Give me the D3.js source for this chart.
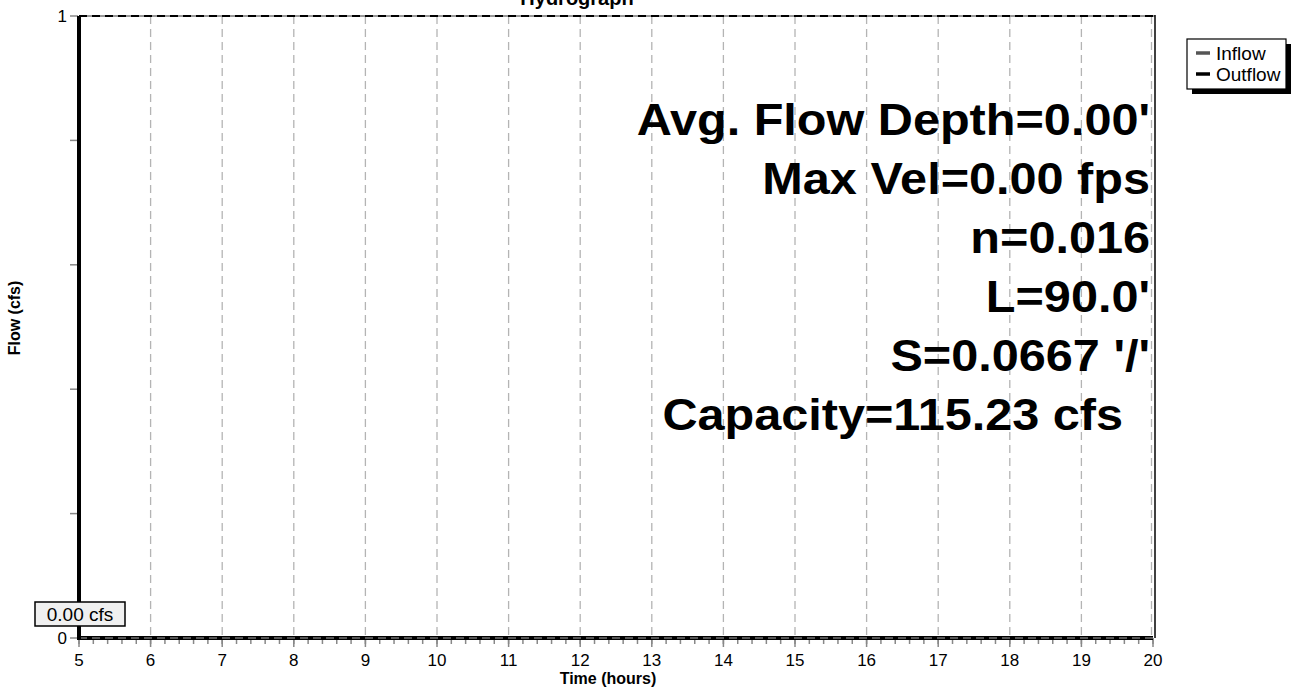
<!DOCTYPE html>
<html>
<head>
<meta charset="utf-8">
<script src="https://cdn.jsdelivr.net/npm/d3@7"></script>
<style>
    body { margin: 0; background: #fff; }
    svg text { font-family: "Liberation Sans", Arial, Helvetica, sans-serif; fill: #000; }
</style>
</head>
<body>
<svg id="chart" width="1294" height="692"></svg>
<script>
// hydrograph values (hours, cfs)
const timeHours = [5, 6, 7, 8, 9, 10, 11, 12, 13, 14, 15, 16, 17, 18, 19, 20];
const inflow    = [0, 0, 0, 0, 0, 0, 0, 0, 0, 0, 0, 0, 0, 0, 0, 0];
const outflow   = [0, 0, 0, 0, 0, 0, 0, 0, 0, 0, 0, 0, 0, 0, 0, 0];
const xTicks = [5, 6, 7, 8, 9, 10, 11, 12, 13, 14, 15, 16, 17, 18, 19, 20];
const yTicks = [0, 1];
const yMinorTicks = [0.2, 0.4, 0.6, 0.8];
const seriesNames = ["Inflow", "Outflow"];
const infoLines = ["Avg. Flow Depth=0.00'", "Max Vel=0.00 fps", "n=0.016", "L=90.0'", "S=0.0667 '/'", "Capacity=115.23 cfs"];
const peakLabel = "0.00 cfs";

const svg = d3.select("#chart");
const margin = { top: 16, right: 141, bottom: 54, left: 79 };
const width = 1294 - margin.left - margin.right;
const height = 692 - margin.top - margin.bottom;

const x = d3.scaleLinear().domain([5, 20]).range([0, width]);
const y = d3.scaleLinear().domain([0, 1]).range([height, 0]);

const g = svg.append("g").attr("transform", `translate(${margin.left},${margin.top})`);

// vertical dashed grid
g.append("g")
    .selectAll("line")
    .data(xTicks.slice(1))
    .enter().append("line")
    .attr("x1", d => x(d) - (d === 20 ? 1.5 : 0))
    .attr("x2", d => x(d) - (d === 20 ? 1.5 : 0))
    .attr("y1", 0)
    .attr("y2", height)
    .attr("stroke", "#b4b4b4")
    .attr("stroke-width", 1.3)
    .attr("stroke-dasharray", "8,5");

// frame: top edge gray with black dashes, right edge black
g.append("line").attr("x1", 0).attr("x2", width + 2).attr("y1", 0).attr("y2", 0)
    .attr("stroke", "#999").attr("stroke-width", 2);
g.append("line").attr("x1", 0).attr("x2", width + 2).attr("y1", 0).attr("y2", 0)
    .attr("stroke", "#000").attr("stroke-width", 2).attr("stroke-dasharray", "8,5");
g.append("line").attr("x1", width + 2).attr("x2", width + 2).attr("y1", -1).attr("y2", height)
    .attr("stroke", "#000").attr("stroke-width", 1.5);

// y axis ticks
g.append("g")
    .selectAll("line")
    .data(yTicks.concat(yMinorTicks))
    .enter().append("line")
    .attr("x1", -9).attr("x2", -1)
    .attr("y1", d => y(d)).attr("y2", d => y(d))
    .attr("stroke", "#888").attr("stroke-width", 1.5);

g.append("g")
    .selectAll("text")
    .data(yTicks)
    .enter().append("text")
    .attr("x", -12)
    .attr("y", d => y(d))
    .attr("dy", "0.36em")
    .attr("text-anchor", "end")
    .style("font-size", "17px")
    .text(d => d);

// x axis ticks (major + 0.2 h minor)
const minorX = d3.range(5, 20.001, 0.2);
g.append("g")
    .selectAll("line")
    .data(minorX)
    .enter().append("line")
    .attr("x1", d => x(d)).attr("x2", d => x(d))
    .attr("y1", height).attr("y2", height + 6)
    .attr("stroke", "#888").attr("stroke-width", 1.5);
g.append("g")
    .selectAll("line")
    .data(xTicks)
    .enter().append("line")
    .attr("x1", d => x(d)).attr("x2", d => x(d))
    .attr("y1", height).attr("y2", height + 9)
    .attr("stroke", "#888").attr("stroke-width", 1.5);

g.append("g")
    .selectAll("text")
    .data(xTicks)
    .enter().append("text")
    .attr("x", d => x(d))
    .attr("y", height + 28)
    .attr("text-anchor", "middle")
    .style("font-size", "17px")
    .text(d => d);

// series
const line = d3.line().x(d => x(d[0])).y(d => y(d[1]));
g.append("path")
    .datum(timeHours.map((t, i) => [t, inflow[i]]))
    .attr("d", line)
    .attr("fill", "none").attr("stroke", "#555").attr("stroke-width", 4);
g.append("path")
    .datum(timeHours.map((t, i) => [t, outflow[i]]))
    .attr("d", line)
    .attr("fill", "none").attr("stroke", "#000").attr("stroke-width", 4);

// horizontal dashed grid at 0 drawn over the series
g.append("line").attr("x1", 0).attr("x2", width).attr("y1", y(0)).attr("y2", y(0))
    .attr("stroke", "#aaa").attr("stroke-width", 1).attr("stroke-dasharray", "8,5");

// thick y axis line
g.append("line").attr("x1", 0).attr("x2", 0).attr("y1", 0).attr("y2", height + 2)
    .attr("stroke", "#000").attr("stroke-width", 4);

// peak label box
const peak = g.append("g").attr("transform", `translate(${-44},${height - 36})`);
peak.append("rect").attr("width", 90).attr("height", 24)
    .attr("fill", "#f0f0f0").attr("stroke", "#000").attr("stroke-width", 1.5);
peak.append("text").attr("x", 45).attr("y", 19).attr("text-anchor", "middle")
    .style("font-size", "19px").text(peakLabel);

// info text (slightly wide bold face, right aligned)
g.append("g")
    .selectAll("text")
    .data(infoLines)
    .enter().append("text")
    .attr("transform", (d, i) => {
        const right = i === infoLines.length - 1 ? width - 30 : width - 3;
        return `translate(${right},${119 + i * 59}) scale(1.08,1)`;
    })
    .attr("text-anchor", "end")
    .style("font-size", "45px")
    .style("font-weight", "bold")
    .text(d => d);

// titles
svg.append("text")
    .attr("x", 577).attr("y", 5)
    .attr("text-anchor", "middle")
    .style("font-size", "20px").style("font-weight", "bold")
    .text("Hydrograph");

svg.append("text")
    .attr("x", 608).attr("y", 684)
    .attr("text-anchor", "middle")
    .style("font-size", "16px").style("font-weight", "bold")
    .text("Time  (hours)");

svg.append("text")
    .attr("transform", "translate(20,318) rotate(-90)")
    .attr("text-anchor", "middle")
    .style("font-size", "16px").style("font-weight", "bold")
    .text("Flow  (cfs)");

// legend
const legend = svg.append("g").attr("transform", "translate(1187,39)");
legend.append("rect").attr("x", 5).attr("y", 5).attr("width", 99).attr("height", 50).attr("fill", "#000");
legend.append("rect").attr("width", 99).attr("height", 50)
    .attr("fill", "#fff").attr("stroke", "#000").attr("stroke-width", 1.2);
const item = legend.selectAll(".item")
    .data(seriesNames)
    .enter().append("g")
    .attr("transform", (d, i) => `translate(0,${14 + i * 21})`);
item.append("line").attr("x1", 9).attr("x2", 23).attr("y1", 0).attr("y2", 0)
    .attr("stroke", (d, i) => i === 0 ? "#555" : "#000").attr("stroke-width", 3.5);
item.append("text").attr("x", 29).attr("y", 0).attr("dy", "0.36em")
    .style("font-size", "19px").text(d => d);
</script>
</body>
</html>
